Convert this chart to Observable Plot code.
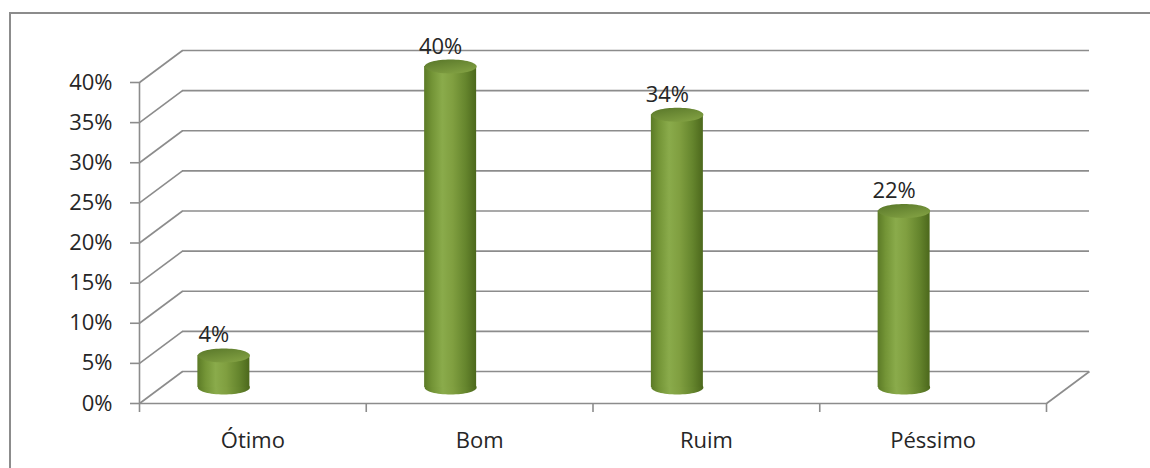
<!DOCTYPE html>
<html>
<head>
<meta charset="utf-8">
<script src="https://cdn.jsdelivr.net/npm/d3@7"></script>
<script src="https://cdn.jsdelivr.net/npm/@observablehq/plot@0.6"></script>
<style>
  html, body { margin: 0; padding: 0; background: #fff; }
  #wrap { position: relative; width: 1150px; height: 468px; overflow: hidden; }
  #border { position: absolute; left: 9px; top: 12px; right: -10px; bottom: -10px;
            border-left: 2px solid #8c8c8c; border-top: 2px solid #8c8c8c; }
  #chart { position: absolute; left: 0; top: 0; }
</style>
</head>
<body>
<div id="wrap"><div id="border"></div><div id="chart"></div></div>
<script>
// Survey answers and their shares
const categories = ["Ótimo", "Bom", "Ruim", "Péssimo"];
const values = [0.04, 0.40, 0.34, 0.22];

// Value axis ticks
const yTicks = [0, 0.05, 0.10, 0.15, 0.20, 0.25, 0.30, 0.35, 0.40];
const yTickLabels = ["0%", "5%", "10%", "15%", "20%", "25%", "30%", "35%", "40%"];

const W = 1150, H = 468;
const xRange = [139, 1046];   // front edge of the floor
const yRange = [403, 82];     // 0% .. 40% on the front wall
const depth = {x: 43, y: -32}; // 3D depth offset of the back wall, in pixels

const xs = d3.scaleLinear([0, categories.length], xRange);
const ys = d3.scaleLinear([0, 0.4], yRange);
const depthX = xs.invert(xRange[0] + depth.x);
const depthY = ys.invert(yRange[0] + depth.y);

const table = categories.map((c, i) => ({category: c, value: values[i], pos: i + 0.5}));

const grid = "#8c8c8c";
const gw = 1.6;

// flat ellipse used for the cylinder caps
const ellipse = {
  draw(context) {
    const rx = 26, ry = 7, k = 0.5523;
    context.moveTo(-rx, 0);
    context.bezierCurveTo(-rx, -ry * k, -rx * k, -ry, 0, -ry);
    context.bezierCurveTo(rx * k, -ry, rx, -ry * k, rx, 0);
    context.bezierCurveTo(rx, ry * k, rx * k, ry, 0, ry);
    context.bezierCurveTo(-rx * k, ry, -rx, ry * k, -rx, 0);
    context.closePath();
  }
};

// cylinder shading
const gradients = () => {
  const defs = d3.create("svg:defs");
  const body = defs.append("linearGradient").attr("id", "cylBody")
    .attr("x1", 0).attr("y1", 0).attr("x2", 1).attr("y2", 0);
  [[0, "#5b7a26"], [0.15, "#739436"], [0.35, "#8aab4b"], [0.55, "#809f40"], [0.8, "#65852d"], [1, "#4c681c"]]
    .forEach(([o, c]) => body.append("stop").attr("offset", o).attr("stop-color", c));
  const top = defs.append("linearGradient").attr("id", "cylTop")
    .attr("x1", 0).attr("y1", 0).attr("x2", 0.6).attr("y2", 1);
  [[0, "#587629"], [1, "#7f9e41"]]
    .forEach(([o, c]) => top.append("stop").attr("offset", o).attr("stop-color", c));
  return defs.node();
};

const cx = -29, cy = depth.y / 2; // cylinders stand mid-depth

const chart = Plot.plot({
  width: W,
  height: H,
  marginLeft: xRange[0],
  marginRight: W - xRange[1],
  marginTop: yRange[1],
  marginBottom: H - yRange[0],
  x: {type: "linear", domain: [0, categories.length], range: xRange, axis: null},
  y: {type: "linear", domain: [0, 0.4], range: yRange, axis: null},
  style: {fontFamily: "'Open Sans', sans-serif", fontSize: "22px", color: "#262626", background: "transparent", overflow: "visible"},
  marks: [
    gradients,
    // back wall gridlines
    Plot.ruleY(yTicks, {y: d => d, dx: depth.x, dy: depth.y, stroke: grid, strokeWidth: gw}),
    // side wall diagonals
    Plot.link(yTicks, {x1: 0, y1: d => d, x2: depthX, y2: d => d + depthY, stroke: grid, strokeWidth: gw}),
    // floor: front edge and right edge
    Plot.ruleY([0], {x1: 0, x2: categories.length, stroke: grid, strokeWidth: gw}),
    Plot.link([0], {x1: categories.length, y1: 0, x2: categories.length + depthX, y2: depthY, stroke: grid, strokeWidth: gw}),
    // value axis line and ticks
    Plot.ruleX([0], {y1: 0, y2: 0.4, stroke: grid, strokeWidth: gw}),
    Plot.ruleY(yTicks, {y: d => d, x1: 0, x2: 0, insetLeft: -9, stroke: grid, strokeWidth: gw}),
    Plot.text(yTicks, {x: 0, y: d => d, text: (d, i) => yTickLabels[i], textAnchor: "end", dx: -27}),
    // category axis ticks
    Plot.ruleX(d3.range(categories.length + 1), {x: d => d, y1: 0, y2: 0, insetBottom: -9, stroke: grid, strokeWidth: gw}),
    Plot.text(table, {x: "pos", y: 0, text: "category", dy: 37}),
    // cylinders
    Plot.dot(table, {x: "pos", y: 0, symbol: ellipse, fill: "url(#cylBody)", stroke: "none", dx: cx, dy: cy}),
    Plot.rect(table, {x1: "pos", x2: "pos", y1: 0, y2: "value", insetLeft: -26, insetRight: -26, fill: "url(#cylBody)", dx: cx, dy: cy}),
    Plot.dot(table, {x: "pos", y: "value", symbol: ellipse, fill: "url(#cylTop)", stroke: "none", dx: cx, dy: cy}),
    // value labels
    Plot.text(table, {x: "pos", y: "value", text: d => d3.format(".0%")(d.value), dx: cx - 10, dy: cy - 20})
  ]
});

document.getElementById("chart").appendChild(chart);
</script>
</body>
</html>
